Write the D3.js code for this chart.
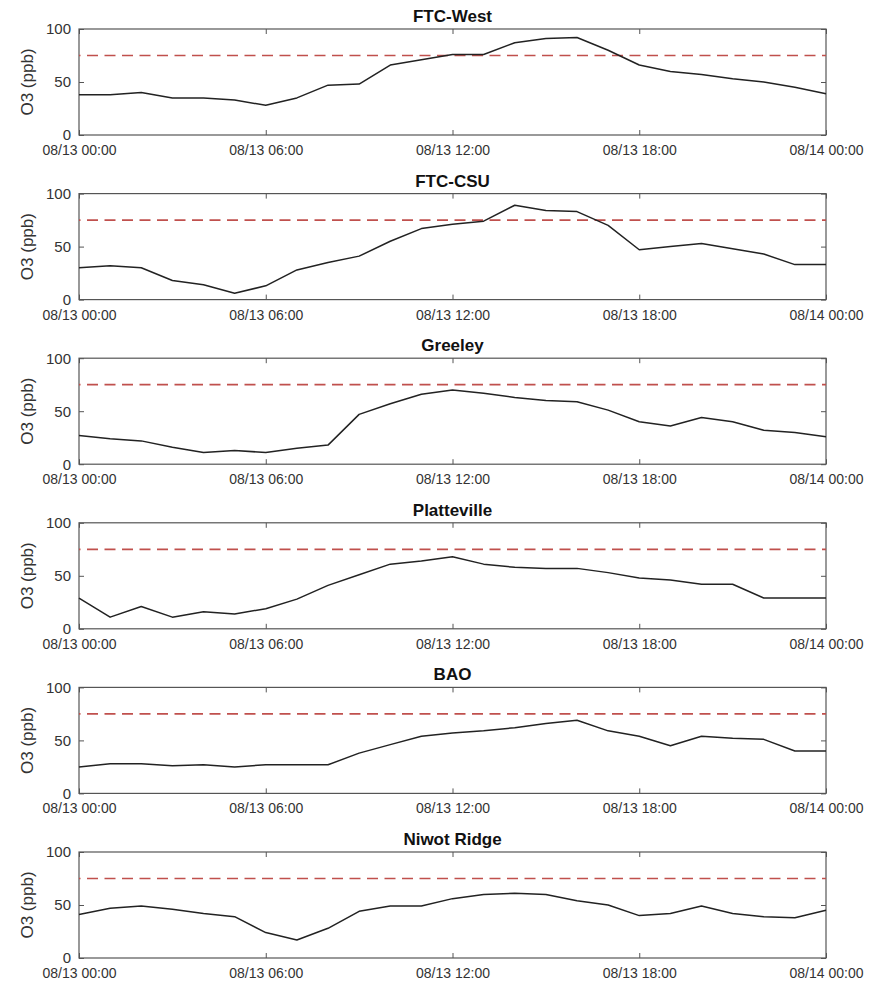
<!DOCTYPE html>
<html>
<head>
<meta charset="utf-8">
<script src="https://cdn.jsdelivr.net/npm/d3@7"></script>
<style>
  body { margin: 0; background: #fff; }
  svg { display: block; }
  text { font-family: "Liberation Sans", Arial, Helvetica, sans-serif; }
</style>
</head>
<body>
<svg id="chart" width="871" height="985"></svg>
<script>
// ---- data ----
const hours = [0,1,2,3,4,5,6,7,8,9,10,11,12,13,14,15,16,17,18,19,20,21,22,23,24];
const stations = ["FTC-West", "FTC-CSU", "Greeley", "Platteville", "BAO", "Niwot Ridge"];
const ftcWest     = [38,38,40,35,35,33,28,35,47,48,66,71,76,76,87,91,92,80,66,60,57,53,50,45,39];
const ftcCsu      = [30,32,30,18,14,6,13,28,35,41,55,67,71,74,89,84,83,70,47,50,53,48,43,33,33];
const greeley     = [27,24,22,16,11,13,11,15,18,47,57,66,70,67,63,60,59,51,40,36,44,40,32,30,26];
const platteville = [29,11,21,11,16,14,19,28,41,51,61,64,68,61,58,57,57,53,48,46,42,42,29,29,29];
const bao         = [25,28,28,26,27,25,27,27,27,38,46,54,57,59,62,66,69,59,54,45,54,52,51,40,40];
const niwot       = [41,47,49,46,42,39,24,17,28,44,49,49,56,60,61,60,54,50,40,42,49,42,39,38,45];
const seriesList = [ftcWest, ftcCsu, greeley, platteville, bao, niwot];
const standard = 75;
const xTickHours = [0, 6, 12, 18, 24];
const xTickLabels = ["08/13 00:00", "08/13 06:00", "08/13 12:00", "08/13 18:00", "08/14 00:00"];
const yTicks = [0, 50, 100];
const yLabel = "O3 (ppb)";

// ---- layout ----
const svg = d3.select("#chart");
const left = 79, right = 826;
const firstTop = 29, step = 164.6, ph = 106;
const frameColor = "#555";
const textColor = "#333";

const x = d3.scaleLinear().domain([0, 24]).range([left, right]);

seriesList.forEach((vals, i) => {
  const top = firstTop + i * step;
  const bottom = top + ph;
  const y = d3.scaleLinear().domain([0, 100]).range([bottom, top]);
  const g = svg.append("g");

  // title
  g.append("text")
    .attr("x", (left + right) / 2)
    .attr("y", top - 7)
    .attr("text-anchor", "middle")
    .attr("font-size", 17)
    .attr("font-weight", "bold")
    .attr("fill", "#111")
    .text(stations[i]);

  // bottom axis (labels), ticks inward
  const xAxisB = d3.axisBottom(x).tickValues(xTickHours)
    .tickFormat((d, k) => xTickLabels[k]).tickSizeInner(-5).tickSizeOuter(0).tickPadding(10);
  const gxb = g.append("g").attr("transform", `translate(0,${bottom})`).call(xAxisB);
  gxb.select(".domain").remove();
  gxb.selectAll("line").attr("stroke", frameColor);
  gxb.selectAll("text").attr("font-size", 14).attr("fill", textColor)
    .attr("font-family", "Liberation Sans, Arial, sans-serif");

  // top ticks
  const xAxisT = d3.axisTop(x).tickValues(xTickHours).tickFormat("").tickSizeInner(-5).tickSizeOuter(0);
  const gxt = g.append("g").attr("transform", `translate(0,${top})`).call(xAxisT);
  gxt.select(".domain").remove();
  gxt.selectAll("line").attr("stroke", frameColor);

  // left axis
  const yAxisL = d3.axisLeft(y).tickValues(yTicks).tickSizeInner(-5).tickSizeOuter(0).tickPadding(8);
  const gyl = g.append("g").attr("transform", `translate(${left},0)`).call(yAxisL);
  gyl.select(".domain").remove();
  gyl.selectAll("line").attr("stroke", frameColor);
  gyl.selectAll("text").attr("font-size", 15).attr("fill", textColor)
    .attr("font-family", "Liberation Sans, Arial, sans-serif");

  // right ticks
  const yAxisR = d3.axisRight(y).tickValues(yTicks).tickFormat("").tickSizeInner(-5).tickSizeOuter(0);
  const gyr = g.append("g").attr("transform", `translate(${right},0)`).call(yAxisR);
  gyr.select(".domain").remove();
  gyr.selectAll("line").attr("stroke", frameColor);

  // frame
  g.append("rect")
    .attr("x", left).attr("y", top)
    .attr("width", right - left).attr("height", ph)
    .attr("fill", "none").attr("stroke", frameColor).attr("stroke-width", 1.2);

  // y label
  g.append("text")
    .attr("transform", `translate(33,${(top + bottom) / 2}) rotate(-90)`)
    .attr("text-anchor", "middle")
    .attr("font-size", 17)
    .attr("fill", textColor)
    .text(yLabel);

  // standard line
  g.append("line")
    .attr("x1", x(0)).attr("x2", x(24))
    .attr("y1", y(standard)).attr("y2", y(standard))
    .attr("stroke", "#c0504d")
    .attr("stroke-width", 1.7)
    .attr("stroke-dasharray", "11,6.5")
    .attr("stroke-dashoffset", -8);

  // data line
  const line = d3.line().x((d, k) => x(hours[k])).y(d => y(d));
  g.append("path")
    .datum(vals)
    .attr("d", line)
    .attr("fill", "none")
    .attr("stroke", "#222")
    .attr("stroke-width", 1.5)
    .attr("stroke-linejoin", "round");
});
</script>
</body>
</html>
